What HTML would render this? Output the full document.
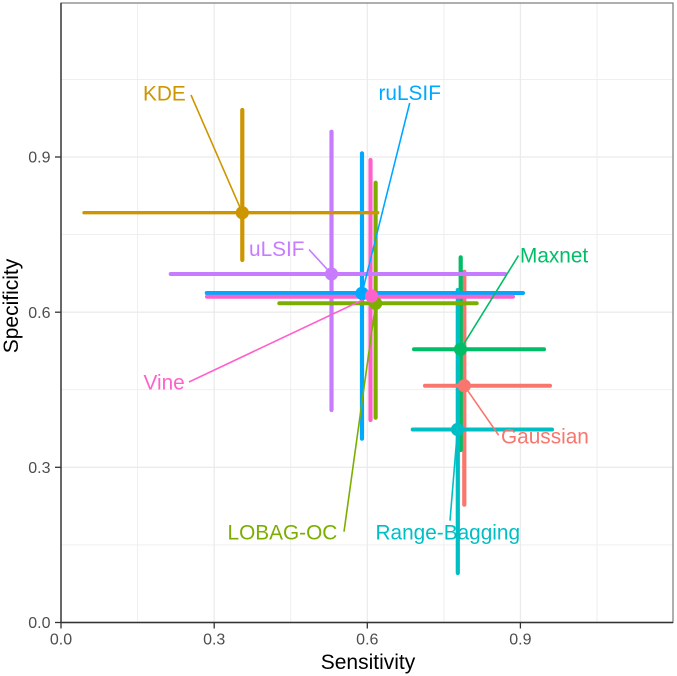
<!DOCTYPE html>
<html><head><meta charset="utf-8"><style>
html,body{margin:0;padding:0;background:#fff;}
svg{display:block;}
text{font-family:"Liberation Sans",Arial,sans-serif;}
</style></head><body>
<svg width="677" height="676" viewBox="0 0 677 676" xmlns="http://www.w3.org/2000/svg">
<rect x="0" y="0" width="677" height="676" fill="#fff"/>
<!-- minor grid -->
<g stroke="#EDEDED" stroke-width="0.9" fill="none">
<line x1="137.6" y1="3" x2="137.6" y2="622.5"/>
<line x1="290.7" y1="3" x2="290.7" y2="622.5"/>
<line x1="443.9" y1="3" x2="443.9" y2="622.5"/>
<line x1="597" y1="3" x2="597" y2="622.5"/>
<line x1="61" y1="544.9" x2="673" y2="544.9"/>
<line x1="61" y1="389.7" x2="673" y2="389.7"/>
<line x1="61" y1="234.6" x2="673" y2="234.6"/>
<line x1="61" y1="79.4" x2="673" y2="79.4"/>
</g>
<!-- major grid -->
<g stroke="#EBEBEB" stroke-width="1.3" fill="none">
<line x1="214.2" y1="3" x2="214.2" y2="622.5"/>
<line x1="367.3" y1="3" x2="367.3" y2="622.5"/>
<line x1="520.4" y1="3" x2="520.4" y2="622.5"/>
<line x1="61" y1="467.3" x2="673" y2="467.3"/>
<line x1="61" y1="312.2" x2="673" y2="312.2"/>
<line x1="61" y1="157" x2="673" y2="157"/>
</g>

<!-- vertical error bars -->
<g stroke-width="4.2" stroke-linecap="round" fill="none">
<line x1="464.3" y1="271.7" x2="464.3" y2="504.7" stroke="#F8766D"/>
<line x1="242.3" y1="110" x2="242.3" y2="260" stroke="#CD9600"/>
<line x1="375.6" y1="182.7" x2="375.6" y2="417.7" stroke="#7CAE00"/>
<line x1="460.7" y1="257.3" x2="460.7" y2="450" stroke="#00BE67"/>
<line x1="457.8" y1="290" x2="457.8" y2="573" stroke="#00BFC4"/>
<line x1="362" y1="153.3" x2="362" y2="438.7" stroke="#00A9FF"/>
<line x1="331.5" y1="131.7" x2="331.5" y2="410" stroke="#C77CFF"/>
<line x1="370.5" y1="160" x2="370.5" y2="420" stroke="#FF61CC"/>
</g>
<!-- horizontal error bars -->
<g stroke-width="4" stroke-linecap="round" fill="none">
<line x1="425" y1="385.7" x2="550" y2="385.7" stroke="#F8766D"/>
<line x1="84" y1="212.7" x2="377.7" y2="212.7" stroke="#CD9600" stroke-width="3.4"/>
<line x1="279.3" y1="303.3" x2="476.7" y2="303.3" stroke="#7CAE00"/>
<line x1="414" y1="349.3" x2="544" y2="349.3" stroke="#00BE67"/>
<line x1="412.7" y1="429.5" x2="552" y2="429.5" stroke="#00BFC4"/>
<line x1="206.7" y1="293" x2="523" y2="293" stroke="#00A9FF"/>
<line x1="170.7" y1="274" x2="505.3" y2="274" stroke="#C77CFF"/>
<line x1="207" y1="296.8" x2="513" y2="296.8" stroke="#FF61CC"/>
</g>

<!-- leader segments -->
<g stroke-width="1.6" fill="none">
<line x1="191" y1="95" x2="242.3" y2="212.7" stroke="#CD9600"/>
<line x1="309" y1="249.5" x2="331.5" y2="274" stroke="#C77CFF"/>
<line x1="409.7" y1="103" x2="362" y2="293.3" stroke="#00A9FF"/>
<line x1="518.5" y1="255.5" x2="460.5" y2="349.3" stroke="#00BE67"/>
<line x1="498.7" y1="435.3" x2="464.3" y2="385.7" stroke="#F8766D"/>
<line x1="450" y1="520.7" x2="457.5" y2="429.5" stroke="#00BFC4"/>
<line x1="344" y1="531.7" x2="375.7" y2="303.3" stroke="#7CAE00"/>
<line x1="189" y1="382" x2="371" y2="296" stroke="#FF61CC"/>
</g>

<!-- points -->
<g>
<circle cx="464.3" cy="385.7" r="6.6" fill="#F8766D"/>
<circle cx="242.3" cy="212.7" r="6.6" fill="#CD9600"/>
<circle cx="375.7" cy="303.3" r="6.6" fill="#7CAE00"/>
<circle cx="460.5" cy="349.3" r="6.6" fill="#00BE67"/>
<circle cx="457.5" cy="429.5" r="6.6" fill="#00BFC4"/>
<circle cx="362" cy="293.3" r="6.6" fill="#00A9FF"/>
<circle cx="331.5" cy="274" r="6.6" fill="#C77CFF"/>
<circle cx="371.5" cy="296" r="6.6" fill="#FF61CC"/>
</g>

<!-- labels -->
<g font-size="20.8">
<text x="143" y="100.7" fill="#CD9600">KDE</text>
<text x="249" y="256" fill="#C77CFF">uLSIF</text>
<text x="378.5" y="100" fill="#00A9FF">ruLSIF</text>
<text x="520" y="262.7" fill="#00BE67">Maxnet</text>
<text x="501" y="443.3" fill="#F8766D">Gaussian</text>
<text x="375.5" y="539.3" fill="#00BFC4">Range-Bagging</text>
<text x="227.5" y="539.3" fill="#7CAE00">LOBAG-OC</text>
<text x="143.5" y="389.3" fill="#FF61CC">Vine</text>
</g>

<!-- panel border -->
<rect x="61" y="3" width="612" height="619.5" fill="none" stroke="#7a7a7a" stroke-width="1.2"/>
<line x1="61" y1="3" x2="61" y2="623" stroke="#333" stroke-width="1.4"/>
<line x1="60.5" y1="622.5" x2="673" y2="622.5" stroke="#333" stroke-width="1.4"/>

<!-- ticks -->
<g stroke="#333" stroke-width="1.3">
<line x1="55" y1="622.5" x2="61" y2="622.5"/>
<line x1="55" y1="467.3" x2="61" y2="467.3"/>
<line x1="55" y1="312.2" x2="61" y2="312.2"/>
<line x1="55" y1="157" x2="61" y2="157"/>
<line x1="61" y1="622.5" x2="61" y2="628.5"/>
<line x1="214.2" y1="622.5" x2="214.2" y2="628.5"/>
<line x1="367.3" y1="622.5" x2="367.3" y2="628.5"/>
<line x1="520.4" y1="622.5" x2="520.4" y2="628.5"/>
</g>
<g font-size="16" fill="#4D4D4D">
<text x="50.5" y="628.2" text-anchor="end">0.0</text>
<text x="50.5" y="473" text-anchor="end">0.3</text>
<text x="50.5" y="318" text-anchor="end">0.6</text>
<text x="50.5" y="162.7" text-anchor="end">0.9</text>
<text x="61" y="644.3" text-anchor="middle">0.0</text>
<text x="214.2" y="644.3" text-anchor="middle">0.3</text>
<text x="367.3" y="644.3" text-anchor="middle">0.6</text>
<text x="520.4" y="644.3" text-anchor="middle">0.9</text>
</g>
<text x="368" y="669" font-size="21" text-anchor="middle" fill="#000">Sensitivity</text>
<text x="0" y="0" font-size="21" text-anchor="middle" fill="#000" transform="translate(18,306) rotate(-90)">Specificity</text>
</svg>
</body></html>
